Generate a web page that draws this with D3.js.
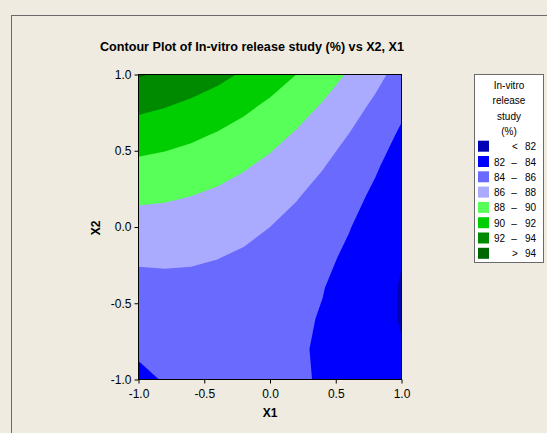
<!DOCTYPE html>
<html>
<head>
<meta charset="utf-8">
<script src="https://cdn.jsdelivr.net/npm/d3@7"></script>
<style>
  html, body { margin: 0; padding: 0; background: #efebe0; }
  svg { display: block; font-family: "Liberation Sans", Arial, sans-serif; }
</style>
</head>
<body>
<svg id="chart" width="547" height="433"></svg>
<script>
// grid of the response
const x1Values = [-1.0, -0.8, -0.6, -0.4, -0.2, 0.0, 0.2, 0.4, 0.6, 0.8, 1.0];
const x2Values = [1.0, 0.8, 0.6, 0.4, 0.2, 0.0, -0.2, -0.4, -0.6, -0.8, -1.0];
// one row per X2 value, top row (X2 = 1) first
const releaseGrid = [
  [94.17, 93.72, 93.17, 92.53, 91.78, 90.94, 90.00, 88.96, 87.82, 86.58, 85.24],
  [92.50, 92.14, 91.67, 91.11, 90.45, 89.69, 88.83, 87.88, 86.82, 85.67, 84.41],
  [90.97, 90.69, 90.31, 89.83, 89.25, 88.57, 87.80, 86.92, 85.95, 84.88, 83.71],
  [89.58, 89.38, 89.08, 88.68, 88.18, 87.59, 86.89, 86.10, 85.20, 84.21, 83.12],
  [88.33, 88.21, 87.99, 87.67, 87.25, 86.73, 86.11, 85.40, 84.58, 83.67, 82.66],
  [87.22, 87.17, 87.03, 86.78, 86.44, 86.00, 85.46, 84.82, 84.08, 83.25, 82.31],
  [86.25, 86.28, 86.21, 86.04, 85.77, 85.40, 84.94, 84.37, 83.71, 82.95, 82.08],
  [85.42, 85.52, 85.52, 85.42, 85.23, 84.93, 84.54, 84.05, 83.46, 82.77, 81.85],
  [84.73, 84.90, 84.97, 84.95, 84.82, 84.60, 84.27, 83.90, 83.33, 82.71, 81.85],
  [84.18, 84.42, 84.56, 84.60, 84.54, 84.39, 84.15, 83.85, 83.33, 82.78, 82.13],
  [83.72, 84.08, 84.28, 84.39, 84.40, 84.31, 84.15, 83.90, 83.45, 82.96, 82.38]
];

const levelBreaks = [82, 84, 86, 88, 90, 92, 94];
const levelColors = ["#0000b4", "#0000ff", "#6a6aff", "#aaaaff", "#58ff58", "#00ce00", "#008a00", "#006600"];
const legendTitle = ["In-vitro", "release", "study", "(%)"];
const axisTicks = [-1.0, -0.5, 0.0, 0.5, 1.0];

const svg = d3.select("#chart");

// outer frame
svg.append("rect")
  .attr("x", 11.5).attr("y", 15.5)
  .attr("width", 600).attr("height", 500)
  .attr("fill", "#efebe0")
  .attr("stroke", "#6a6a6a");

const x = d3.scaleLinear().domain([-1, 1]).range([138.5, 401.5]);
const y = d3.scaleLinear().domain([-1, 1]).range([379.5, 74.5]);

svg.append("defs").append("clipPath").attr("id", "plotClip")
  .append("rect")
  .attr("x", x(-1)).attr("y", y(1))
  .attr("width", x(1) - x(-1)).attr("height", y(-1) - y(1));

const nx = x1Values.length, ny = x2Values.length;
const contours = d3.contours()
  .size([nx, ny])
  .thresholds(levelBreaks)(releaseGrid.flat());

// grid units -> pixels (sample k sits at k + 0.5)
const gx = d3.scaleLinear().domain([0.5, nx - 0.5]).range([x(x1Values[0]), x(x1Values[nx - 1])]);
const gy = d3.scaleLinear().domain([0.5, ny - 0.5]).range([y(x2Values[0]), y(x2Values[ny - 1])]);
const path = d3.geoPath(d3.geoTransform({
  point(px, py) { this.stream.point(gx(px), gy(py)); }
}));

const plot = svg.append("g").attr("clip-path", "url(#plotClip)");
plot.append("rect")
  .attr("x", x(-1)).attr("y", y(1))
  .attr("width", x(1) - x(-1)).attr("height", y(-1) - y(1))
  .attr("fill", levelColors[0]);
plot.selectAll(".band")
  .data(contours)
  .enter()
  .append("path")
  .attr("class", "band")
  .attr("d", path)
  .attr("fill", (d, i) => levelColors[i + 1]);

svg.append("rect")
  .attr("x", x(-1)).attr("y", y(1))
  .attr("width", x(1) - x(-1)).attr("height", y(-1) - y(1))
  .attr("fill", "none")
  .attr("stroke", "#000");

// axes
const fmt = (d) => d.toFixed(1);
const xAxis = svg.append("g")
  .attr("transform", `translate(0,${y(-1)})`)
  .call(d3.axisBottom(x).tickValues(axisTicks).tickFormat(fmt).tickSize(4).tickSizeOuter(0).tickPadding(6));
const yAxis = svg.append("g")
  .attr("transform", `translate(${x(-1)},0)`)
  .call(d3.axisLeft(y).tickValues(axisTicks).tickFormat(fmt).tickSize(4).tickSizeOuter(0).tickPadding(3));
[xAxis, yAxis].forEach((g) => {
  g.select(".domain").remove();
  g.selectAll("text").attr("font-size", 12).attr("fill", "#000")
    .attr("font-family", "'Liberation Sans', Arial, sans-serif");
  g.selectAll("line").attr("stroke", "#000");
});

svg.append("text")
  .attr("x", 270).attr("y", 417)
  .attr("text-anchor", "middle")
  .attr("font-size", 12).attr("font-weight", "bold")
  .text("X1");
svg.append("text")
  .attr("transform", "translate(99.5,228) rotate(-90)")
  .attr("text-anchor", "middle")
  .attr("font-size", 12).attr("font-weight", "bold")
  .text("X2");

// title
svg.append("text")
  .attr("x", 252).attr("y", 51)
  .attr("text-anchor", "middle")
  .attr("font-size", 13).attr("font-weight", "bold")
  .attr("textLength", 304).attr("lengthAdjust", "spacingAndGlyphs")
  .text("Contour Plot of In-vitro release study (%) vs X2, X1");

// legend
const legend = svg.append("g");
legend.append("rect")
  .attr("x", 474.5).attr("y", 74.5)
  .attr("width", 69).attr("height", 188)
  .attr("fill", "#ffffff")
  .attr("stroke", "#6a6a6a");
legend.selectAll(".ltitle")
  .data(legendTitle)
  .enter()
  .append("text")
  .attr("class", "ltitle")
  .attr("x", 509).attr("y", (d, i) => 89 + i * 15.3)
  .attr("text-anchor", "middle")
  .attr("font-size", 10)
  .text((d) => d);

const rowTop = (i) => 140.7 + i * 15.3;
legend.selectAll(".swatch")
  .data(levelColors)
  .enter()
  .append("rect")
  .attr("class", "swatch")
  .attr("x", 478).attr("y", (d, i) => rowTop(i))
  .attr("width", 11).attr("height", 11)
  .attr("fill", (d) => d);

levelColors.forEach((c, i) => {
  const base = rowTop(i) + 9.5;
  const lo = i === 0 ? null : levelBreaks[i - 1];
  const hi = i === levelColors.length - 1 ? null : levelBreaks[i];
  const t = legend.append("g").attr("font-size", 10);
  if (lo === null) {
    t.append("text").attr("x", 515).attr("y", base).attr("text-anchor", "middle").text("<");
    t.append("text").attr("x", 536).attr("y", base).attr("text-anchor", "end").text(hi);
  } else if (hi === null) {
    t.append("text").attr("x", 515).attr("y", base).attr("text-anchor", "middle").text(">");
    t.append("text").attr("x", 536).attr("y", base).attr("text-anchor", "end").text(lo);
  } else {
    t.append("text").attr("x", 505).attr("y", base).attr("text-anchor", "end").text(lo);
    t.append("text").attr("x", 514).attr("y", base).attr("text-anchor", "middle").text("–");
    t.append("text").attr("x", 536).attr("y", base).attr("text-anchor", "end").text(hi);
  }
});
</script>
</body>
</html>
